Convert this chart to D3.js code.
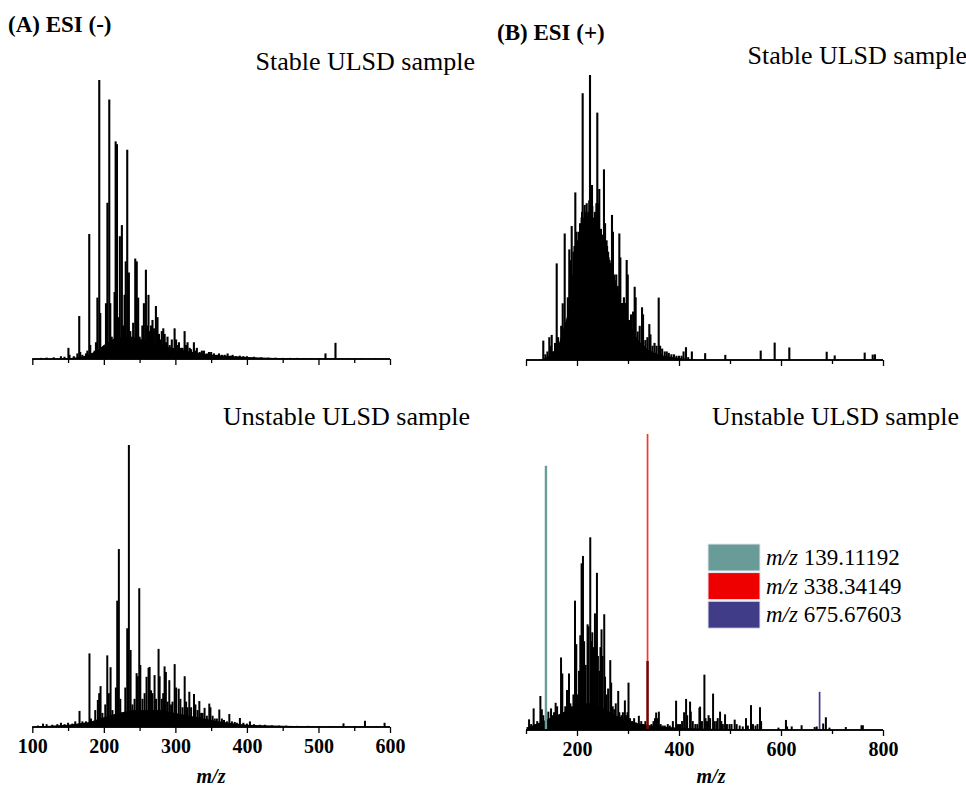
<!DOCTYPE html>
<html><head><meta charset="utf-8">
<script src="https://cdn.jsdelivr.net/npm/d3@7/dist/d3.min.js"></script>
<style>body{margin:0;background:#fff}svg{display:block}text{font-family:"Liberation Serif","Times New Roman",serif}</style>
</head><body>
<svg id="c" width="966" height="789"></svg>
<script>
// ---- DATA (m/z, relative intensity %) ----
const panelTitles = ["(A) ESI (-)", "(B) ESI (+)"];
const sampleLabels = ["Stable ULSD sample", "Unstable ULSD sample"];
const ticksNeg = [100, 200, 300, 400, 500, 600];
const ticksPos = [200, 400, 600, 800];
const xLabel = "m/z";

const negStablePeaks = [[112,0.4],[120,0.5],[130,0.6],[140,1],[145,0.8],[150.5,4],[152,1.5],[158,1],[163,2],[165.6,15.4],[167,2.5],[170,1.5],[175,2],[177,3],[179.6,44.8],[181,5],[183,2],[187,3],[189,6],[191,22],[193.6,100],[195,16.5],[197,4],[201,5],[203,20],[205,56],[207.6,93],[209,20],[211,8],[213,4],[215,24],[216.5,78],[218.3,77],[220,15],[222.4,44],[225.2,48],[227,12],[229,23],[230.6,35],[232.7,75],[235,31],[237,10],[239,8],[241,13],[243.9,36],[246,35],[248,22],[250,8],[253.8,12],[256,20],[258.8,32],[261,12],[262.4,23],[264,10],[266,12],[268,14],[270,11],[272.8,19],[275,15],[277,9],[279,7],[281,10],[283.1,11],[285,9],[287,6],[289,8],[292,5],[295,7],[298.9,11],[301,7],[303,5],[305,6],[308,4],[310,4],[312.9,10],[315,5],[317,6],[320,4],[322,3.5],[325.9,6],[328,3],[330,4],[334,2.5],[337,3],[340,3],[344,2],[347,2.5],[350,2.5],[354,2],[358,1.5],[361,2],[365,1.5],[369,1.5],[373,2],[377,1.2],[380,1.5],[385,1],[390,1.2],[395,1],[400,1],[410,0.8],[420,0.6],[430,0.5],[440,0.5],[450,0.4],[460,0.4],[470,0.4],[480,0.3],[490,0.3],[509.8,2],[523.8,5.8],[540,0.3],[560,0.3],[580,0.3]];
const negStableBase = [[140,0],[160,0.5],[175,1.2],[190,3],[200,5],[215,7.5],[230,8],[245,7.5],[260,6.5],[280,5],[300,3.8],[320,2.7],[340,1.9],[360,1.3],[400,0.7],[450,0.3],[500,0.2],[600,0]];

const negUnstablePeaks = [[108,0.5],[115,1.2],[120,1],[128,0.8],[135,1],[140,1.5],[145,1],[150,1.5],[156,1.2],[160,2],[166,5.7],[170,2],[175,2],[179.9,26.1],[182,3],[188,6],[191.6,9.6],[193.5,12],[195.4,14.5],[198,5],[202,8],[204.8,25.4],[207,12],[209.4,21.2],[212,6],[216.8,14],[218.7,44.8],[221,63.1],[223,10],[226,5],[230,14],[232.7,35],[235,100],[237.4,27.3],[240,8],[243,10],[245.8,19.1],[247.5,18],[249.5,49.2],[251,22],[254,10],[257,12],[259.7,17.8],[262.5,21],[264,21.3],[266,13],[268,12],[270.9,18.4],[273,10],[276.5,27.7],[278,18],[281,10],[283,12],[284.9,21.5],[286.7,19.5],[289,9],[291.5,16.6],[294,8],[296,9],[299,22.3],[301,14],[304.6,13.6],[307,10],[310,7],[313,18],[315,9],[317,7],[319.5,12.5],[322,7],[326,11.7],[328,8],[331,6],[333.5,9.2],[336,5],[338,5],[340.8,6.8],[344,4],[347.4,8.3],[349,7],[352,4],[355,3],[358,3],[361.4,6.2],[365,3],[368,2.5],[372,2],[375.4,4.6],[379,2],[383,1.8],[386,1.5],[390.2,3.2],[395,1.5],[400,1.2],[404.2,2],[410,1],[418,0.8],[425,0.8],[435,0.6],[445,0.5],[455,0.5],[470,0.4],[485,0.4],[500,0.3],[515,0.3],[535,1.3],[550,0.3],[565,2.2],[580,0.3],[592.4,1.5]];
const negUnstableBase = [[105,0.2],[150,0.8],[180,1.8],[200,3.5],[220,5],[240,6],[260,6],[280,6],[300,5],[320,4],[340,3],[360,2],[380,1.3],[400,0.8],[450,0.4],[500,0.2],[600,0.1]];

const posStablePeaks = [[133.9,6.8],[138,2],[142,3],[145.7,8],[148,5],[150.4,8.8],[153,3],[157,6],[160.2,33.9],[163,8],[166,6],[169,12],[172,19.9],[175.9,44.4],[178,10],[181,14],[182,22],[184.9,38.8],[186,28],[187,30],[188,35],[189.6,47],[191,30],[192,20],[193,38],[194,30],[195,40],[196.7,58.8],[198.7,45],[200,42],[201,32],[202,38],[203,45],[204,35],[205,40],[206,48],[207,40],[208,44],[209,50],[210,52],[211.1,93.6],[212,48],[213,40],[214,50],[215,54.4],[216,52],[217,45],[218,48],[219,55],[220,50],[221,50],[222,52],[223,48],[224,56],[225.5,100],[226.5,52],[227,55],[228,50],[229.4,61.4],[230,54],[231,46],[232,48],[233,50],[234,45],[235,52],[236,46],[237,50],[238,55],[239.8,86.8],[240.5,50],[241.5,55],[242,48],[243.7,60],[245,44],[246,46],[247,46],[248,42],[249,40],[250,44],[251,40],[252.9,66.9],[254,42],[255,48],[256,38],[257,36],[258,42],[259,40],[260,34],[261,38],[262,36],[263,32],[264,35],[265,34],[266,30],[267,32],[268.6,50.9],[269,30],[270.5,45],[271,28],[272,26],[273,30],[274,28],[275,25],[276,27],[277,30],[278,22],[279,25],[280,26],[281,24],[282,20],[283,44.4],[284,22],[285,36],[286,18],[287,20],[288,17],[289,20],[290,16],[291,18],[292,22],[293,15],[294,20],[295,14],[296,16],[297.4,35.1],[298,13],[299.5,30],[300,12],[301,14],[302,11],[303,14],[304,10],[305,12],[306,16],[307,9],[308,11],[309,8],[310,17],[311,9],[312,10],[313.1,25.7],[314,8],[315,22],[316,7],[317,8],[318,6],[319,10],[320,7],[321,6],[322,5],[323,12],[324,6],[325,5],[326,6],[327.5,18.5],[328,4],[329.5,16],[330,5],[331,4],[332,5],[334,7],[335,4],[336,3.5],[337,4],[338,8],[339,3],[340,3.5],[341.8,12.6],[343,3],[344,9],[345,2.5],[346,3],[348,5],[349,2.5],[350,2],[352,6],[353,2.5],[354,2],[356,5],[357,2],[358,2],[360.2,21.9],[362,2],[363,5],[364,1.5],[366,2],[367,4],[372,3],[376,3],[380,2.5],[385,2],[390,2],[395,1.5],[400,1.5],[405,1.5],[409,3],[413.7,4.5],[418,1],[425.2,3],[451.3,2.4],[490.8,1.8],[560.2,3.3],[587.6,6.1],[616.3,4.4],[689.6,2.9],[705.3,1.6],[764.1,2.6],[779.8,1.9],[784.3,2]];
const posStableBase = [[128,0],[140,1],[150,2],[165,6],[180,15],[195,28],[205,36],[215,40],[225,42],[235,40],[245,36],[255,31],[265,27],[275,22],[285,17],[295,13],[305,10],[315,7],[325,5],[340,3.5],[355,2.2],[370,1.5],[390,1],[420,0.3],[440,0]];

const posUnstablePeaks = [[103,1],[106,3.6],[110,2],[115,7.3],[118,2],[122,3],[128.2,11.5],[131,7],[134,5],[137,3],[143.8,6.2],[146,4],[149.1,7.3],[152,5],[155,6],[158.1,9.2],[161,8],[164,5],[168.7,24.5],[171.2,19.1],[174,6],[177,8],[180.4,13.5],[182,10],[184.3,19.1],[187,9],[190,8],[193,12],[196.1,43.7],[198.6,29],[201,12],[204,20],[206.5,32],[209,56.3],[211.7,58.8],[214,30],[217,22],[220.7,35.7],[222.5,35],[226,65.1],[228,30],[230,33],[233,28],[235.2,39.4],[237,30],[239.1,53.1],[241,25],[244,20],[246,28],[248.1,34],[250,25],[253.4,39.1],[255,18],[258,12],[261,14],[265.2,23.6],[267,16],[270,8],[273,7],[276,9],[280.8,13.2],[283,6],[287,5],[290,6],[293.9,10],[296,5],[299,6],[301,16],[304,4],[308,3],[312,4],[316,2.5],[321.3,4.8],[326,3],[330,2],[334,3],[338.34,23.3],[342,1.5],[346,2],[350,3],[353,4],[355.2,5.9],[358,4],[360.5,6.2],[364,2],[368,1.5],[372,1.5],[378,2],[382,1.5],[388,3],[394.3,9.9],[398,2],[402,2],[406,3],[410,6],[413.9,10.5],[416,5],[421.7,9.6],[423.1,6.2],[427,3],[432,2],[436,2],[440,7.5],[441.3,7.9],[445,3],[449.8,18.7],[452,4],[455,3],[458,5],[461,4],[466.8,12.3],[469,3],[473,3],[476,4],[480.5,6.2],[483,3],[486,2],[490.3,5.3],[494,2],[499,2],[503,2],[509.2,3.5],[513,2],[519,1.5],[525,1.2],[531.4,4],[535,1.5],[541.2,8.4],[545,2],[550,1.5],[554,2],[558.8,7.7],[561,3],[595,0.8],[609.7,3.4],[612,1.2],[621,1.2],[640.4,1.6],[666,1],[670,1.2],[682.7,2.2],[688,4.3],[695,0.8],[727.1,1],[757.8,1.6],[760.5,1.6]];
const posUnstableBase = [[100,0],[105,1],[120,2],[140,3.5],[160,5],[180,6.5],[200,8],[215,9],[230,9],[245,8],[260,6.5],[275,5],[290,4],[305,3],[320,2.2],[340,1.6],[360,1.3],[380,1],[400,0.8],[440,0.5],[480,0.3],[520,0.2],[570,0]];

const markerMz = [139.11192, 338.34149, 675.67603];
const markerInt = [89.3, 100, 12.9];
const markerColors = ["#6a9c9a", "#f03838", "#3f3a8c"];
const legendColors = ["#699b98", "#ee0000", "#403c88"];
const overlapColor = "#7d0000";

// ---- DRAW ----
const svg = d3.select("#c");

function panel(o) {
  const x = d3.scaleLinear().domain(o.domain).range(o.xr);
  const y = d3.scaleLinear().domain([0, 100]).range([o.ay, o.top]);
  const g = svg.append("g");
  g.append("path").datum(o.base)
    .attr("d", d3.area().x(d => x(d[0])).y0(y(0)).y1(d => y(d[1])).curve(d3.curveLinear))
    .attr("fill", "#000");
  g.selectAll("line.pk").data(o.peaks).join("line")
    .attr("x1", d => x(d[0])).attr("x2", d => x(d[0]))
    .attr("y1", y(0)).attr("y2", d => y(d[1]))
    .attr("stroke", "#000").attr("stroke-width", o.sw);
  if (o.markers) {
    g.selectAll("line.mk").data(markerMz).join("line")
      .attr("x1", d => x(d)).attr("x2", d => x(d))
      .attr("y1", y(0)).attr("y2", (d, i) => y(markerInt[i]))
      .attr("stroke", (d, i) => markerColors[i]).attr("stroke-width", (d,i)=> i===0?2.4:1.7);
    const ov = o.peaks.filter(p => Math.abs(p[0] - markerMz[1]) < 0.5);
    g.selectAll("line.ov").data(ov).join("line")
      .attr("x1", d => x(d[0])).attr("x2", d => x(d[0]))
      .attr("y1", y(0)).attr("y2", d => y(d[1]))
      .attr("stroke", overlapColor).attr("stroke-width", 1.9);
  }
  const ax = g.append("g").attr("transform", `translate(0,${o.ay})`);
  ax.call(d3.axisBottom(x).tickValues(o.minor).tickSize(4).tickFormat(""));
  const maj = g.append("g").attr("transform", `translate(0,${o.ay})`);
  maj.call(d3.axisBottom(x).tickValues(o.major).tickSize(6).tickPadding(5)
      .tickFormat(o.labels ? d3.format("d") : ""));
  [ax, maj].forEach(a => {
    a.select(".domain").attr("stroke", "#000").attr("stroke-width", 1.5)
      .attr("d", `M${o.xr[0]},0H${o.xr[1]}`);
    a.selectAll(".tick line").attr("stroke", "#000").attr("stroke-width", 1.3);
  });
  maj.selectAll(".tick text").attr("font-weight", "bold")
    .attr("font-size", 20).attr("fill", "#000").attr("dy", "0.75em");
  if (o.labels) {
    g.append("text").attr("x", o.tx).attr("y", 783)
      .attr("text-anchor", "middle").attr("font-size", 20).attr("font-weight", "bold")
      .attr("font-style", "italic").text(xLabel);
  }
  g.append("text").attr("x", o.lx).attr("y", o.ly).attr("text-anchor", "end")
    .attr("font-size", 26).text(o.label);
}

panel({domain:[100,600], xr:[32.3,390], ay:359, top:80, peaks:negStablePeaks, base:negStableBase, sw:2.1,
  major:ticksNeg, minor:d3.range(150,600,100), labels:false, label:sampleLabels[0], lx:475, ly:70});
panel({domain:[100,600], xr:[32.3,390], ay:727, top:445, peaks:negUnstablePeaks, base:negUnstableBase, sw:2,
  major:ticksNeg, minor:d3.range(150,600,100), labels:true, tx:211, label:sampleLabels[1], lx:470, ly:425});
panel({domain:[100,800], xr:[526,883], ay:360, top:75, peaks:posStablePeaks, base:posStableBase, sw:2.1,
  major:[100].concat(ticksPos), minor:[300,500,700], labels:false, label:sampleLabels[0], lx:967, ly:64});
panel({domain:[100,800], xr:[526,883], ay:730, top:434, peaks:posUnstablePeaks, base:posUnstableBase, sw:2,
  major:ticksPos, minor:[100,300,500,700], labels:true, tx:711, label:sampleLabels[1], lx:959, ly:425, markers:true});

svg.append("text").attr("x", 8).attr("y", 32).attr("font-size", 23).attr("font-weight", "bold").text(panelTitles[0]);
svg.append("text").attr("x", 497).attr("y", 40).attr("font-size", 23).attr("font-weight", "bold").text(panelTitles[1]);

const lg = svg.append("g");
const legendMz = markerMz.map(d => d3.format(".5f")(d));
legendMz.forEach((t, i) => {
  lg.append("rect").attr("x", 708).attr("y", 544 + i * 28.6).attr("width", 52).attr("height", 27)
    .attr("fill", legendColors[i]).attr("stroke", "#e8e8f0").attr("stroke-width", 1);
  const tx = lg.append("text").attr("x", 766).attr("y", 565 + i * 28.6).attr("font-size", 23);
  tx.append("tspan").attr("font-style", "italic").text("m/z");
  tx.append("tspan").text(" " + t);
});
</script>
</body></html>
